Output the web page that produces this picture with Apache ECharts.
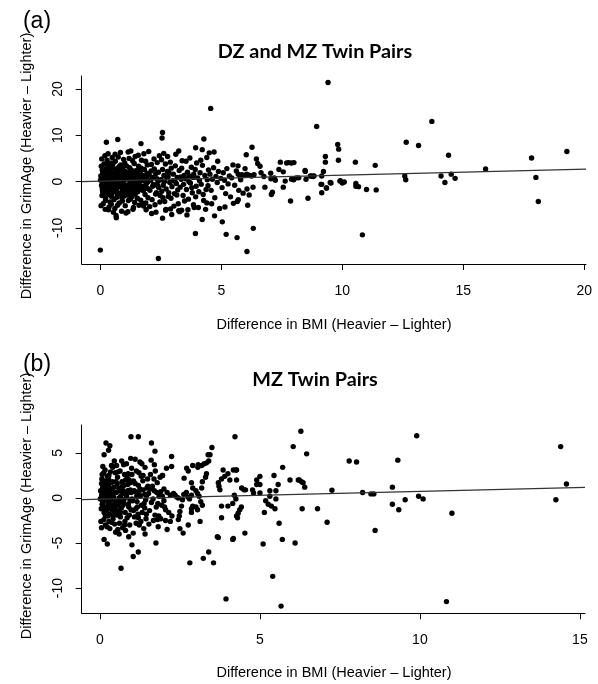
<!DOCTYPE html>
<html>
<head>
<meta charset="utf-8">
<script src="https://cdn.jsdelivr.net/npm/echarts@6/dist/echarts.min.js"></script>
<style>
html,body{margin:0;padding:0;background:#fff;}
#main{width:598px;height:684px;}
</style>
</head>
<body>
<div id="main"></div>
<script>
// (a) DZ and MZ pairs: [BMI difference, GrimAge difference]
var pairsA = [
  [0,-14.8],[2.4,-16.6],[4.56,15.8],[0.25,8.5],[0.72,9.1],[2.57,10.6],[2.55,9.4],[4.28,9.2],[3.94,7.3],[4.21,6.9],
  [4.5,6.2],[4.7,6.4],[1.68,8.2],[6.27,7.4],[6.03,5.8],[3.93,-11.2],[5.2,-11.4],[5.65,-12.1],[5.04,-8.7],[6.06,-15.1],
  [6.32,-10.1],[4.21,-8.2],[4.72,-7.4],[2.57,-7.9],[2.7,-6.2],[3.36,-6.2],[3.24,-6.3],[3.58,-7.2],[3.85,-5.0],[4.4,-4.6],
  [5.5,-4.7],[6.09,-5.1],[6.15,-2.9],[7.86,-4.2],[8.58,-3.6],[5.66,-4.3],[5.7,-3.9],
  [9.41,21.4],[8.94,11.9],[13.7,13.0],[12.64,8.5],[13.15,7.8],[9.81,8.0],[9.85,7.0],[9.3,5.4],[9.3,4.2],
  [9.84,4.6],[10.54,4.2],[11.36,3.5],[14.39,5.7],[15.92,2.7],[17.82,5.1],[19.28,6.5],[18.0,0.9],[18.1,-4.3],[10.83,-11.5],
  [14.08,1.2],[14.24,-0.2],[14.5,1.6],[14.66,0.7],[12.58,1.2],[12.62,0.4],[11.0,-1.7],[11.4,-1.8],[10.56,-0.4],[10.56,-1.0],
  [10.67,-1.1],[9.92,0.2],[10.08,-0.1],[9.53,-0.3],[9.35,-1.4],[9.15,-0.6],[9.15,-2.4],[9.15,1.2],[9.22,2.2],[8.79,1.1],
  [8.68,1.2],[8.47,2.2],[8.5,0.5],[8.1,0.8],[7.9,0.5],[7.9,4.0],[7.7,4.0],
  [6.45,4.9],[6.5,3.9],[6.6,3.3],[5.69,3.4],[7.44,4.2],[7.78,4.1],[8.0,4.1],[7.38,2.6],[7.56,2.1],[7.04,1.8],
  [6.64,1.9],[6.76,1.1],[7.05,0.6],[7.19,0.8],[7.23,0.3],[7.64,0.1],[7.99,0.4],[8.2,0.8],[8.46,2.4],[8.73,1.2],
  [8.83,1.2],[9.12,-0.6],[9.34,-1.4],[9.5,-0.2],[9.9,0.1],[10.0,-0.3],[6.8,-1.2],[7.56,-1.2],[6.31,-1.2],[6.06,-1.6],
  [7.11,-2.3],[7.07,-2.8],[5.7,1.6],[5.85,1.5],[5.95,1.3],[6.05,1.6],[6.15,1.4],[6.25,1.2],[6.35,1.5],[5.78,1.0],
  [0.02,1.2],[0.05,-0.8],[0.08,2.5],[0.1,-2.3],[0.12,0.4],[0.15,3.8],[0.18,-1.5],[0.2,1.9],[0.22,-3.6],[0.25,0.1],
  [0.28,4.6],[0.3,-0.5],[0.33,2.2],[0.35,-2.8],[0.38,1.0],[0.4,-4.4],[0.42,3.1],[0.45,-1.1],[0.48,0.7],[0.03,-5.2],
  [0.06,4.9],[0.09,-1.9],[0.13,1.6],[0.16,-0.3],[0.19,5.6],[0.21,-4.1],[0.24,2.8],[0.27,-2.0],[0.31,0.9],[0.34,-6.1],
  [0.37,3.5],[0.4,-0.9],[0.43,1.8],[0.46,-3.2],[0.49,5.2],[0.01,0.3],[0.04,3.3],[0.07,-3.0],[0.11,-0.1],[0.14,2.0],
  [0.17,-2.6],[0.23,-0.6],[0.26,1.4],[0.29,-1.6],[0.32,6.0],[0.36,-5.5],[0.39,0.2],[0.41,2.6],[0.44,-2.4],[0.47,4.0],
  [0.12,-4.8],[0.2,-6.0],[0.3,3.9],[0.45,-4.9],
  [0.51,-0.4],[0.53,2.9],[0.55,-2.1],[0.57,1.3],[0.6,-5.8],[0.62,4.4],[0.64,-0.8],[0.66,0.6],[0.68,-3.4],[0.7,2.1],
  [0.72,-1.3],[0.74,5.3],[0.76,0.0],[0.78,-4.6],[0.8,1.7],[0.82,-2.7],[0.84,3.6],[0.86,-0.2],[0.88,-6.4],[0.9,2.4],
  [0.92,-1.8],[0.94,0.8],[0.96,4.8],[0.98,-3.1],[0.52,3.8],[0.56,-3.9],[0.59,0.3],[0.63,-1.6],[0.67,2.7],[0.71,-5.1],
  [0.75,1.1],[0.79,-0.7],[0.83,6.3],[0.87,1.9],[0.91,-4.2],[0.95,-0.5],[0.99,1.5],[0.54,-6.6],[0.61,5.9],[0.69,-2.4],
  [0.77,3.2],[0.85,-1.0],[0.93,3.0],[0.97,-2.2],[0.58,1.8],[0.65,-7.3],[0.73,-0.1],[0.81,0.9],[0.89,-3.5],[0.66,-7.8],
  [1.02,0.5],[1.05,-2.6],[1.08,3.4],[1.1,-0.9],[1.13,1.6],[1.16,-4.1],[1.19,5.0],[1.22,0.1],[1.25,-1.9],[1.28,2.5],
  [1.31,-3.3],[1.34,0.7],[1.37,-5.6],[1.4,3.9],[1.43,-0.3],[1.46,1.2],[1.49,-2.0],[1.03,-5.2],[1.07,2.0],[1.11,-1.4],
  [1.15,6.4],[1.18,-0.6],[1.21,3.0],[1.24,-3.8],[1.27,1.0],[1.3,-0.1],[1.33,4.5],[1.36,-2.5],[1.39,0.4],[1.42,-4.5],
  [1.45,2.3],[1.48,-1.0],[1.06,-6.8],[1.14,-6.5],[1.26,6.6],[1.35,-6.0],[1.01,4.0],[1.2,-2.9],[1.32,1.9],[1.44,5.4],
  [1.52,0.8],[1.55,-2.2],[1.58,3.3],[1.61,-0.7],[1.64,1.5],[1.67,-4.0],[1.7,4.6],[1.73,-1.2],[1.76,0.2],[1.79,-5.3],
  [1.82,2.6],[1.85,-2.8],[1.88,1.1],[1.91,-0.4],[1.94,3.6],[1.97,-3.5],[1.53,-3.6],[1.57,5.7],[1.62,-1.7],[1.66,2.2],
  [1.71,0.6],[1.75,-4.7],[1.8,6.0],[1.84,-0.9],[1.89,-6.1],[1.93,1.8],[1.98,0.0],[1.6,-5.1],[1.69,2.9],[1.78,-2.0],
  [1.87,4.4],[1.95,-1.5],[1.88,-4.6],
  [0.05,0.6],[0.1,1.8],[0.14,-1.2],[0.18,0.5],[0.22,2.3],[0.26,-0.9],[0.3,1.5],[0.34,-1.8],[0.38,-0.2],[0.42,1.1],
  [0.46,0.3],[0.5,-1.5],[0.54,0.9],[0.58,-0.6],[0.62,2.0],[0.66,-2.0],[0.7,0.8],[0.74,-1.0],[0.78,2.2],[0.82,0.2],
  [0.86,-2.4],[0.9,1.2],[0.94,-1.4],[0.98,0.3],[1.02,2.2],[1.06,-0.8],[1.1,1.0],[1.14,-1.9],[1.18,0.8],[1.22,-1.0],
  [1.26,1.8],[1.3,-2.0],[1.34,0.0],[1.38,1.4],[1.42,-1.2],[1.46,-0.4],[1.5,1.6],[1.54,-0.9],[1.58,0.7],[0.08,-1.4],
  [0.16,1.0],[0.24,-2.1],[0.32,0.5],[0.4,1.6],[0.48,-2.6],[0.56,0.1],[0.64,1.4],[0.72,-2.6],[0.8,-0.5],[0.88,2.8],
  [0.96,-0.8],[1.04,1.3],[1.12,-2.9],[1.2,2.0],[1.28,-0.5],[1.36,1.0],[1.44,-2.7],[1.52,2.4],[1.6,0.2],[1.68,-1.0],
  [1.76,1.3],[1.84,-1.5],[1.92,0.5],
  [2.02,1.4],[2.05,-1.9],[2.08,0.3],[2.11,3.7],[2.14,-3.9],[2.17,0.9],[2.2,-0.6],[2.23,2.7],[2.26,-5.0],[2.29,1.7],
  [2.32,-2.4],[2.35,4.1],[2.38,0.0],[2.41,-1.3],[2.44,5.6],[2.47,-3.0],[2.04,-5.4],[2.1,2.3],[2.16,-1.0],[2.22,4.9],
  [2.28,-2.7],[2.34,0.6],[2.4,2.0],[2.46,-4.4],[2.12,-6.9],[2.3,-6.6],[2.0,6.5],[2.37,-0.9],
  [2.51,0.4],[2.54,-2.1],[2.57,2.6],[2.6,-0.8],[2.63,1.3],[2.66,-4.3],[2.69,3.8],[2.72,-1.6],[2.75,0.8],[2.78,5.4],
  [2.81,-3.2],[2.84,1.9],[2.87,-0.2],[2.9,-5.9],[2.93,2.9],[2.96,-1.1],[2.99,0.2],[2.53,4.7],[2.59,-3.5],[2.65,0.0],
  [2.71,-6.0],[2.77,2.2],[2.83,-2.4],[2.89,4.2],[2.95,-7.1],[2.62,6.1],[2.8,1.1],[2.92,-3.6],
  [3.02,1.6],[3.06,-2.6],[3.1,3.4],[3.14,-0.4],[3.18,0.9],[3.22,-4.8],[3.26,2.4],[3.3,-1.2],[3.34,0.5],[3.38,4.5],
  [3.42,-3.0],[3.46,1.3],[3.04,-5.3],[3.12,5.9],[3.2,-1.8],[3.28,-6.5],[3.36,2.9],[3.44,-0.6],[3.08,0.1],[3.24,6.6],
  [3.48,-4.2],[3.16,-2.9],[3.32,1.0],
  [3.52,0.6],[3.56,-1.7],[3.6,2.0],[3.64,-3.8],[3.68,1.2],[3.72,-0.3],[3.76,3.1],[3.8,-2.4],[3.84,0.9],[3.88,-5.6],
  [3.92,2.6],[3.96,-1.0],[3.54,4.4],[3.62,-6.1],[3.7,5.1],[3.78,-1.3],[3.86,1.6],[3.94,-3.3],[3.66,0.0],[3.98,4.0],
  [4.02,0.8],[4.07,-2.2],[4.12,1.9],[4.17,-0.6],[4.22,3.5],[4.27,-4.1],[4.32,1.3],[4.37,-1.7],[4.42,0.4],[4.47,2.5],
  [4.05,-5.6],[4.15,4.6],[4.25,-2.8],[4.35,-6.0],[4.45,-0.9],[4.1,0.2],[4.4,5.2],
  [4.53,1.6],[4.58,-1.9],[4.63,0.5],[4.68,3.0],[4.73,-3.5],[4.78,1.1],[4.83,-0.2],[4.88,2.2],[4.93,-5.8],[4.98,0.7],
  [4.6,-4.8],[4.85,4.4],
  [5.03,-1.3],[5.08,1.9],[5.13,0.3],[5.18,-2.6],[5.23,2.8],[5.28,-0.5],[5.33,1.2],[5.38,-3.3],[5.43,0.8],[5.48,3.6],
  [5.15,-5.5],[5.55,-0.8],[5.62,2.3],[5.72,-1.9],[5.8,0.4],[5.9,-2.5],[5.98,2.8]
];

// (b) MZ pairs
var pairsB = [
  [1.2,6.8],[0.97,6.8],[1.61,6.1],[0.19,6.1],[0.31,5.8],[0.13,4.8],[0.27,5.3],[0.66,-7.8],[1.04,-6.5],[1.2,-6.0],
  [1.41,-4.0],[1.75,-5.0],[0.13,-4.6],[0.23,-5.1],[0.6,-4.0],[1.0,-5.2],[3.94,-11.2],[5.66,-12.0],[5.4,-8.7],[2.81,-7.2],
  [3.23,-6.7],[3.4,-6.0],[3.55,-7.2],[3.67,-4.3],[4.15,-4.6],[4.53,-3.9],[5.1,-5.1],[5.7,-4.6],[6.1,-5.0],[4.22,6.8],
  [3.5,5.6],[3.44,4.8],[2.9,3.6],[3.06,3.4],[3.26,3.8],[1.95,2.5],[2.24,3.5],[1.72,5.2],[1.7,3.7],[5.44,2.5],
  [5.0,2.4],[6.04,5.7],[6.23,2.0],
  [6.28,7.4],[6.46,4.9],[5.94,2.0],[6.2,2.0],[6.3,1.8],[6.35,1.7],[6.4,1.2],[6.32,-1.2],[6.8,-1.2],[7.1,-2.7],
  [7.25,0.85],[7.79,4.1],[8.02,4.0],[8.21,0.6],[8.47,0.45],[8.56,0.45],[8.6,-3.6],[9.14,1.2],[9.14,-0.7],[9.34,-1.3],
  [9.31,4.2],[9.54,-0.2],[9.9,6.9],[9.96,0.2],[10.1,-0.1],[11.0,-1.7],[10.83,-11.5],[14.25,-0.2],[14.4,5.7],[14.58,1.55],
  [5.71,3.4],[4.27,3.1],[4.27,2.0],[4.9,2.0],[5.57,1.5],[4.9,1.5],[5.0,1.5],[4.77,0.9],[4.43,1.1],[4.5,0.9],
  [4.55,0.9],[4.8,0.55],[5.0,0.55],[5.31,0.8],[5.5,0.8],[5.31,0.2],[5.18,-0.3],[5.26,-0.7],[5.36,-0.9],[5.47,-1.2],
  [5.5,-0.1],[5.14,-1.6],[4.32,-1.7],[4.27,-2.0],[4.37,-1.3],[4.42,-1.0],[5.6,-2.8],
  [2.24,4.6],[3.38,4.8],[2.08,3.3],[1.96,2.5],[3.07,3.7],[3.18,3.6],[3.33,3.9],[3.4,4.1],[2.71,3.3],[2.76,3.0],
  [3.85,3.1],[4.17,3.1],[4.25,3.1],[2.63,2.2],[3.3,2.3],[3.33,2.7],[2.86,1.7],[2.9,1.1],[3.7,1.7],[3.8,2.1],
  [3.9,2.4],[4.0,2.7],[4.06,2.0],[3.75,0.9],[3.72,1.3],[3.18,1.1],[3.2,1.8],[3.0,0.8],[3.05,0.5],[3.1,0.2],
  [2.7,0.6],[2.75,0.1],[2.8,-0.1],[2.86,0.3],[2.58,-0.2],[2.62,0.4],[2.3,0.5],[2.35,0.3],[2.4,0.1],[2.45,0.0],
  [2.0,1.0],[2.1,0.6],[2.2,0.3],[1.9,0.7],[1.95,0.2],[2.0,-0.3],[1.93,-0.8],[2.02,-1.0],[4.2,0.3],[4.25,-0.1],
  [4.15,-0.6],[3.15,-0.4],[3.2,-0.8],[3.0,-1.0],[3.05,-1.3],[2.9,-0.9],[2.86,-1.2],[2.86,-1.6],[2.55,-0.9],[2.5,-1.5],
  [2.48,-2.0],[2.45,-2.4],[2.05,-1.3],[2.15,-1.6],[2.25,-2.0],[3.8,-0.9],[4.0,-0.9],[4.3,-2.2],[3.13,-2.6],[2.76,-3.0],
  [1.9,-2.3],[2.05,-2.5],[2.2,-2.6],[2.1,-3.5],[2.5,-3.4],[2.6,-3.9],[3.8,-2.2],[3.7,-4.4],[4.17,-4.5],
  [0.02,0.8],[0.04,-1.2],[0.06,2.1],[0.08,-0.3],[0.1,1.4],[0.12,-2.4],[0.14,0.2],[0.16,3.1],[0.18,-1.0],[0.2,1.0],
  [0.22,-3.2],[0.24,0.5],[0.26,-0.6],[0.28,2.5],[0.3,-1.8],[0.32,0.0],[0.34,1.7],[0.36,-2.7],[0.38,0.7],[0.4,3.4],
  [0.42,-0.9],[0.44,1.2],[0.46,-1.5],[0.48,2.8],[0.03,-2.6],[0.05,1.6],[0.07,-0.7],[0.09,3.5],[0.11,0.4],[0.13,-1.6],
  [0.15,1.9],[0.17,-3.0],[0.19,0.9],[0.21,-0.2],[0.23,2.4],[0.25,-2.0],[0.27,1.3],[0.29,-0.4],[0.31,-3.4],[0.33,2.9],
  [0.35,0.3],[0.37,-1.3],[0.39,1.8],[0.41,-2.3],[0.43,0.1],[0.45,4.1],[0.47,-0.5],[0.49,-3.8],[0.01,-0.1],[0.06,0.4],
  [0.1,-0.5],[0.15,0.9],[0.2,-1.4],[0.25,1.7],[0.3,0.6],[0.35,-0.8],[0.4,0.0],[0.05,-3.3],[0.12,2.8],[0.28,-2.6],
  [0.36,3.6],[0.46,-2.9],[0.08,1.1],[0.18,1.3],[0.22,0.2],[0.44,-0.2],
  [0.51,0.6],[0.53,-1.9],[0.55,2.3],[0.57,-0.4],[0.59,1.1],[0.61,-2.8],[0.63,3.0],[0.65,0.2],[0.67,-1.1],[0.69,1.8],
  [0.71,-3.3],[0.73,0.8],[0.75,-0.2],[0.77,2.6],[0.79,-1.6],[0.81,0.4],[0.83,3.8],[0.85,-2.2],[0.87,1.5],[0.89,-0.7],
  [0.91,2.0],[0.93,-3.0],[0.95,0.9],[0.97,-1.3],[0.99,3.3],[0.52,3.6],[0.56,-3.5],[0.6,0.0],[0.64,-2.1],[0.68,4.1],
  [0.72,-0.8],[0.76,1.4],[0.8,-3.6],[0.84,0.1],[0.88,2.7],[0.92,-1.9],[0.96,4.4],[0.54,1.6],[0.62,-0.6],[0.7,0.5],
  [0.78,-2.6],[0.86,2.2],[0.94,-0.3],[0.58,-1.4],[0.74,3.7],[0.9,-4.3],[0.98,0.6],
  [1.02,-0.3],[1.05,1.9],[1.08,-2.1],[1.11,0.7],[1.14,3.0],[1.17,-1.0],[1.2,1.4],[1.23,-3.0],[1.26,0.2],[1.29,2.4],
  [1.32,-1.6],[1.35,0.9],[1.38,-0.6],[1.41,3.4],[1.44,-2.3],[1.47,1.1],[1.04,-3.9],[1.1,4.3],[1.16,-0.4],[1.22,2.8],
  [1.28,-2.6],[1.34,1.9],[1.4,-1.1],[1.46,0.3],[1.07,0.8],[1.19,-1.8],[1.31,3.8],[1.43,-0.2],[1.13,-2.8],[1.25,4.0],
  [1.37,-3.4],[1.49,2.1],
  [1.52,0.5],[1.55,-1.4],[1.58,2.6],[1.61,-0.5],[1.64,1.3],[1.67,-2.5],[1.7,0.8],[1.73,3.0],[1.76,-1.0],[1.79,1.7],
  [1.82,-3.2],[1.85,0.2],[1.88,2.3],[1.53,-2.9],[1.6,4.2],[1.66,-0.1],[1.72,-1.9],[1.78,0.6],[1.84,-2.0],[1.57,1.0],
  [1.69,2.1],[1.81,-0.6],[1.8,-2.4],
  [0.05,0.2],[0.1,-1.0],[0.15,1.5],[0.2,0.3],[0.25,-1.2],[0.3,1.1],[0.35,-0.2],[0.4,-1.9],[0.45,0.6],[0.5,1.8],
  [0.55,-0.8],[0.6,0.8],[0.65,-1.6],[0.7,1.3],[0.75,-0.6],[0.8,2.0],[0.85,0.5],[0.9,-1.0],[0.95,1.7],[1.0,-0.1],
  [1.05,-1.4],[1.1,1.6],[1.15,0.2],[1.2,-2.2],[1.25,1.0],[1.3,-0.8],[1.35,2.5],[1.4,0.4],[1.45,-1.8],[1.5,1.3],
  [0.07,2.6],[0.17,-2.0],[0.27,2.1],[0.37,0.9],[0.47,-1.0],[0.57,2.9],[0.67,-0.3],[0.77,-3.0],[0.87,0.8],[1.0,2.6],
  [1.12,-1.2],[1.22,0.5]
];

// least squares fits: [intercept, slope]
var fitA = [0.1, 0.13];
var fitB = [-0.14, 0.087];

// axis ranges and ticks
var xRangeA = [-0.77, 20.07];
var yRangeA = [-17.8, 22.8];
var xTicksA = [0, 5, 10, 15, 20];
var yTicksA = [-10, 0, 10, 20];
var xRangeB = [-0.57, 15.16];
var yRangeB = [-12.8, 8.1];
var xTicksB = [0, 5, 10, 15];
var yTicksB = [-10, -5, 0, 5];

function fitLine(fit, range) {
  return [[range[0], fit[0] + fit[1] * range[0]], [range[1], fit[0] + fit[1] * range[1]]];
}

var font = 'Liberation Sans';

function xAxisOf(grid, range, ticks) {
  return {
    type: 'value', gridIndex: grid, min: range[0], max: range[1],
    splitLine: {show: false},
    axisLine: {show: true, onZero: false, lineStyle: {color: '#000', width: 1}},
    axisTick: {show: true, customValues: ticks, length: 6, lineStyle: {color: '#000'}},
    axisLabel: {customValues: ticks, color: '#000', fontSize: 14, fontFamily: font, margin: 20}
  };
}
function yAxisOf(grid, range, ticks) {
  return {
    type: 'value', gridIndex: grid, min: range[0], max: range[1],
    splitLine: {show: false},
    axisLine: {show: true, onZero: false, lineStyle: {color: '#000', width: 1}},
    axisTick: {show: true, customValues: ticks, length: 6, lineStyle: {color: '#000'}},
    axisLabel: {customValues: ticks, color: '#000', fontSize: 14, fontFamily: font, rotate: 90, margin: 17}
  };
}

function txt(text, x, y, size, weight, family, rot) {
  return {
    type: 'text', x: x, y: y, rotation: rot || 0,
    style: {text: text, fill: '#000', textAlign: 'center', textVerticalAlign: 'middle',
      font: weight + ' ' + size + 'px "' + family + '"'}
  };
}

var myChart = echarts.init(document.getElementById('main'));
var option = {
  backgroundColor: '#fff',
  animation: false,
  grid: [
    {left: 81.7, right: 12, top: 76, bottom: 420},
    {left: 81.7, right: 13, top: 425, bottom: 70.7}
  ],
  xAxis: [xAxisOf(0, xRangeA, xTicksA), xAxisOf(1, xRangeB, xTicksB)],
  yAxis: [yAxisOf(0, yRangeA, yTicksA), yAxisOf(1, yRangeB, yTicksB)],
  graphic: [
    txt('(a)', 37, 22, 23, 'normal', font),
    txt('(b)', 37, 365, 23, 'normal', font),
    txt('DZ and MZ Twin Pairs', 315, 52, 19.8, 'bold', 'Lato'),
    txt('MZ Twin Pairs', 315, 380, 19.8, 'bold', 'Lato'),
    txt('Difference in BMI (Heavier \u2013 Lighter)', 334, 325, 14.5, 'normal', font),
    txt('Difference in BMI (Heavier \u2013 Lighter)', 334, 673, 14.5, 'normal', font),
    txt('Difference in GrimAge (Heavier \u2013 Lighter)', 27, 166, 14.5, 'normal', font, Math.PI / 2),
    txt('Difference in GrimAge (Heavier \u2013 Lighter)', 27, 506, 14.5, 'normal', font, Math.PI / 2)
  ],
  series: [
    {type: 'scatter', xAxisIndex: 0, yAxisIndex: 0, data: pairsA, symbolSize: 5.4,
      itemStyle: {color: '#000', opacity: 1}, silent: true},
    {type: 'line', xAxisIndex: 0, yAxisIndex: 0, data: fitLine(fitA, xRangeA), symbol: 'none',
      lineStyle: {color: '#333', width: 1.2}, silent: true},
    {type: 'scatter', xAxisIndex: 1, yAxisIndex: 1, data: pairsB, symbolSize: 5.4,
      itemStyle: {color: '#000', opacity: 1}, silent: true},
    {type: 'line', xAxisIndex: 1, yAxisIndex: 1, data: fitLine(fitB, xRangeB), symbol: 'none',
      lineStyle: {color: '#333', width: 1.2}, silent: true}
  ]
};
myChart.setOption(option);
</script>
</body>
</html>
